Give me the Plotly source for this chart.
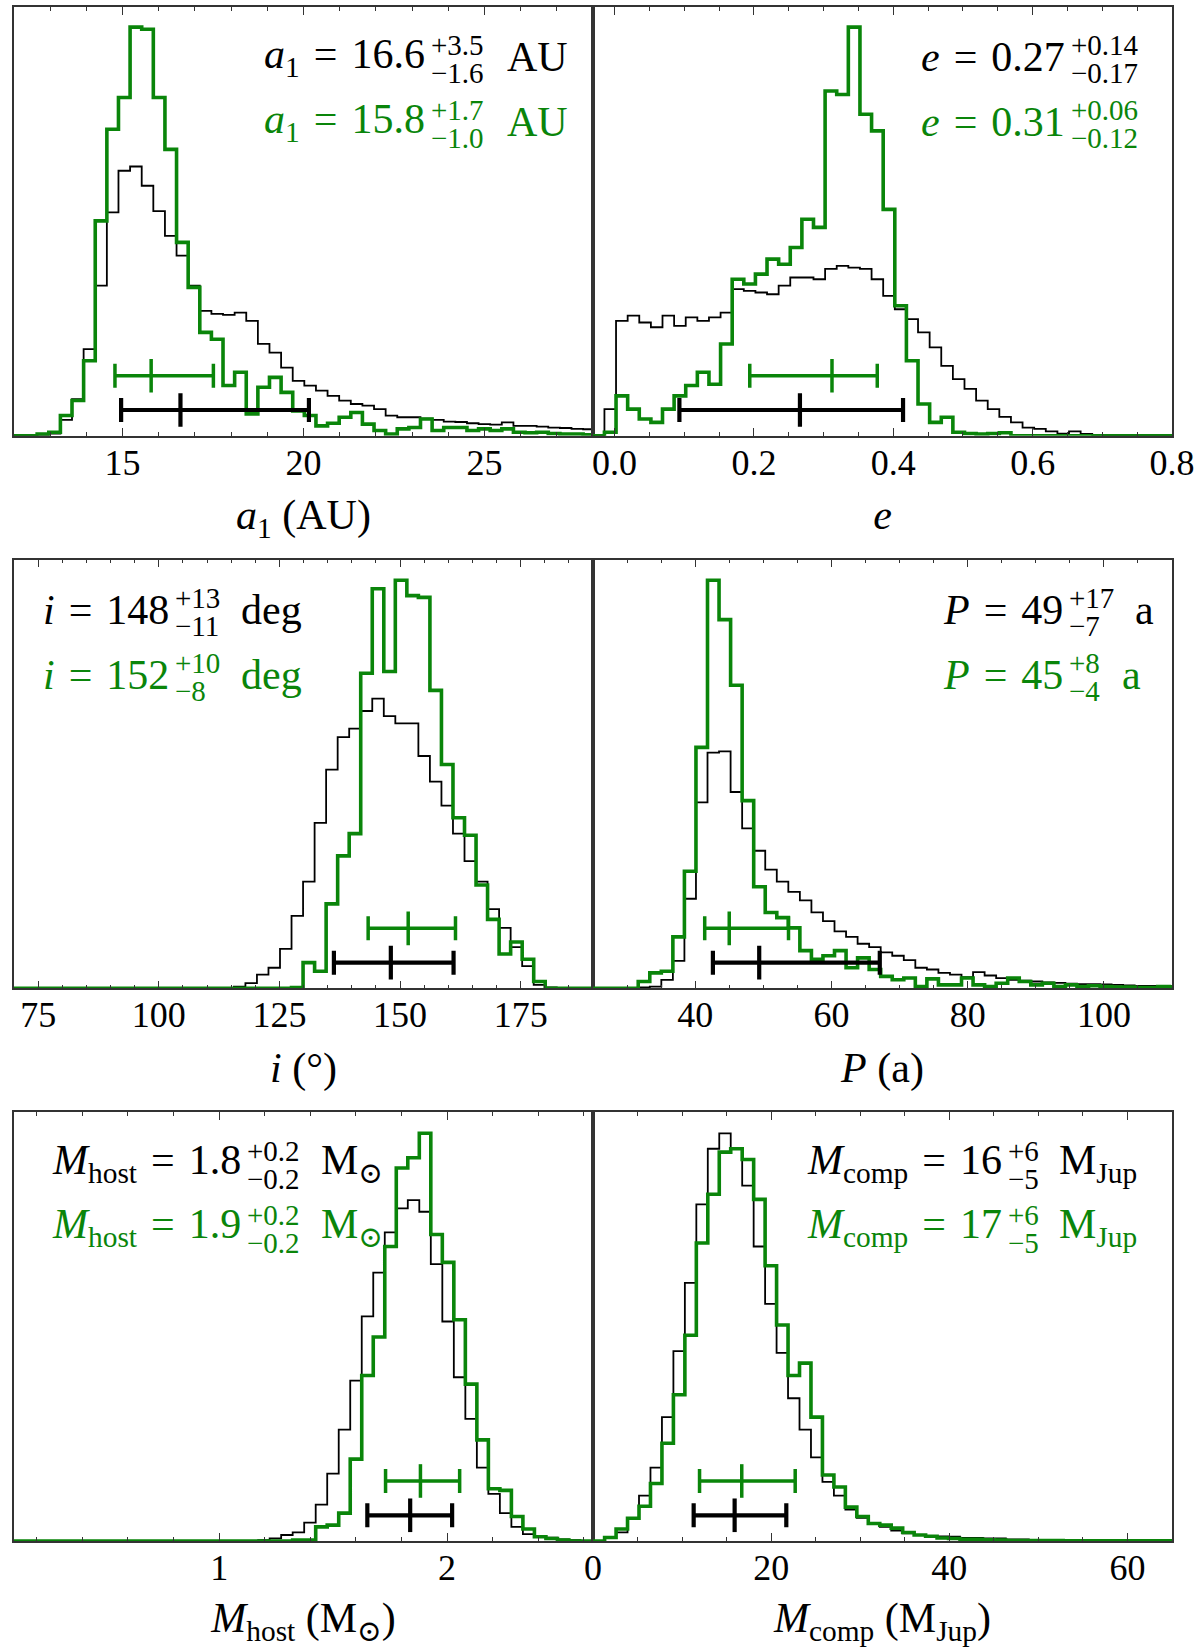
import plotly.graph_objects as go
from plotly.subplots import make_subplots

BLACK = "black"
GREEN = "#0a850a"
FONT = "Liberation Serif, DejaVu Serif, serif"

# heights are in percent of the panel height, bins are uniform (start, width)

# a1 (AU)
a1_bin_start, a1_bin_width = 12.64, 0.321
a1_black = [0.2, 0.5, 3.7, 8.5, 20.2, 35.0, 52.1, 61.8, 62.8, 58.3, 52.4, 46.6, 42.0, 35.0, 29.1, 28.4,
            28.2, 28.7, 26.8, 21.4, 19.4, 15.9, 12.8, 11.7, 10.5, 9.3, 8.2, 7.4, 7.0, 6.2, 4.7, 4.3,
            4.3, 4.0, 3.7, 3.3, 3.2, 2.9, 2.7, 2.6, 3.1, 2.3, 2.3, 2.1, 1.9, 1.8, 1.6, 1.5]
a1_green = [0.4, 0.8, 4.7, 8.2, 17.5, 50.1, 71.5, 78.9, 95.3, 94.8, 78.9, 66.8, 45.1, 34.6, 24.1, 22.5,
            11.7, 14.8, 5.1, 11.3, 13.6, 10.1, 5.8, 4.7, 2.3, 2.9, 4.3, 5.4, 2.7, 1.2, 0.4, 1.6,
            1.9, 3.9, 1.2, 1.9, 1.9, 1.2, 1.6, 1.2, 1.6, 0.8, 0.7, 0.8, 0.5, 0.4, 0.4, 0.2]
a1_black_bar = [14.96, 16.6, 20.15]  # lower, median, upper
a1_green_bar = [14.79, 15.79, 17.51]

# e
e_bin_start, e_bin_width = -0.0146, 0.01667
e_black = [6.2, 26.8, 28.0, 26.4, 25.3, 28.0, 25.6, 27.6, 26.8, 27.6, 28.7, 34.2, 33.8, 33.4, 33.0, 35.0,
           36.9, 36.9, 36.5, 38.9, 39.6, 39.2, 38.9, 36.5, 32.6, 29.5, 27.2, 24.1, 20.6, 16.3, 13.2, 10.9,
           8.2, 6.2, 4.4, 3.1, 1.9, 1.6, 1.0, 0.5, 1.0, 0.4, 0.2, 0.15, 0.1, 0.1, 0.05, 0.05, 0.05]
e_green = [0.8, 9.3, 6.2, 3.9, 3.1, 6.2, 9.3, 11.7, 14.8, 12.0, 21.4, 36.5, 35.4, 37.7, 41.2, 40.0,
           43.9, 50.5, 48.6, 80.4, 79.6, 95.3, 75.0, 71.1, 52.8, 30.3, 17.5, 7.4, 3.1, 4.3, 0.8, 0.5,
           0.4, 0.5, 0.7, 0, 0, 0, 0, 0, 0, 0, 0, 0, 0, 0, 0, 0, 0]
e_black_bar = [0.093, 0.266, 0.414]
e_green_bar = [0.194, 0.312, 0.377]

# i (deg)
i_bin_start, i_bin_width = 115.57, 2.39
i_black = [0.4, 1.2, 3.2, 4.8, 9.2, 16.9, 24.9, 38.6, 51.0, 58.6, 60.6, 64.7, 67.6, 63.5, 61.8, 61.8,
           54.2, 48.2, 42.6, 36.1, 29.7, 24.9, 18.5, 14.1, 9.6, 5.2, 0.8, 0.2]
i_green = [0, 0, 0, 0, 0, 0.2, 6.0, 4.0, 19.7, 30.9, 36.1, 73.5, 93.2, 73.9, 95.2, 91.6,
           91.2, 69.5, 52.2, 39.8, 35.7, 24.1, 16.1, 8.0, 10.8, 6.8, 1.6, 0]
i_black_bar = [136.3, 148.1, 161.1]
i_green_bar = [143.4, 151.7, 161.5]

# P (a)
P_bin_start, P_bin_width = 31.64, 1.695
P_black = [0.2, 0.4, 2.0, 6.4, 20.9, 43.4, 55.0, 55.3, 45.8, 37.3, 32.1, 27.7, 24.9, 22.5, 20.5, 17.7,
           15.7, 13.3, 12.0, 10.4, 9.6, 8.4, 7.6, 6.6, 4.8, 4.4, 3.6, 3.2, 2.6, 3.8, 3.0, 2.4,
           2.0, 1.8, 1.6, 1.4, 1.3, 1.1, 1.0, 1.0, 0.9, 0.8, 0.7, 0.6, 0.6, 0.6, 0.5]
P_green = [1.6, 3.6, 4.0, 12.0, 27.3, 56.2, 95.2, 86.0, 70.7, 43.8, 23.7, 17.7, 16.5, 14.1, 8.8, 6.8,
           7.6, 8.8, 4.8, 7.1, 4.4, 2.8, 2.0, 2.4, 0.4, 2.2, 0.8, 0.8, 2.4, 0.8, 0.4, 1.2,
           2.4, 1.6, 0.8, 1.2, 0.4, 0.8, 0.4, 0.6, 0.4, 0.3, 0.3, 0.2, 0.2, 0.4, 0.3]
P_black_bar = [42.6, 49.4, 67.1]
P_green_bar = [41.4, 45.0, 53.7]

# M_host (M_sun)
mh_bin_start, mh_bin_width = 1.171, 0.0505
mh_black = [0.2, 0.6, 1.4, 2.0, 4.3, 8.5, 15.7, 26.0, 37.4, 52.4, 62.6, 72.0, 77.6, 79.5, 76.8, 64.6,
            51.2, 38.2, 28.5, 17.1, 11.0, 6.5, 3.3, 1.6, 1.1, 0.8, 0.4, 0.2]
mh_green = [0, 0, 0, 0.2, 0.2, 3.3, 3.7, 6.5, 19.1, 38.6, 47.6, 68.7, 87.0, 89.4, 95.1, 71.5,
            65.0, 51.6, 36.6, 23.6, 12.2, 11.8, 5.7, 2.8, 1.0, 0.6, 0.2, 0]
mh_black_bar = [1.65, 1.838, 2.022]
mh_green_bar = [1.73, 1.883, 2.055]

# M_comp (M_Jup)
mc_bin_start, mc_bin_width = 1.304, 1.287
mc_black = [0.8, 2.0, 5.3, 10.6, 17.1, 28.9, 44.3, 60.2, 78.5, 91.5, 95.1, 91.5, 82.9, 68.7, 55.3, 43.9,
            33.3, 26.0, 19.5, 13.8, 10.6, 7.3, 5.4, 4.1, 3.3, 2.4, 1.8, 1.4, 1.2, 1.1, 1.0, 0.7,
            0.7, 0.6, 0.6, 0.4, 0.4, 0.2, 0.2, 0.1, 0.1, 0.1, 0.05, 0.05, 0.05, 0.05, 0.05, 0.05, 0.05, 0.05]
mc_green = [0.8, 2.8, 5.3, 8.1, 13.4, 22.8, 34.1, 48.0, 69.5, 80.9, 90.7, 91.5, 89.0, 79.7, 64.2, 50.4,
            38.6, 41.5, 28.9, 15.4, 12.6, 7.9, 5.7, 4.1, 3.7, 3.0, 2.0, 1.4, 1.1, 0.7, 0.6, 0.4,
            0.4, 0.3, 0.2, 0.1, 0.1, 0.1, 0.1, 0.1, 0.05, 0.05, 0.05, 0.05, 0.05, 0.05, 0.05, 0.05, 0.05, 0.05]
mc_black_bar = [11.3, 15.9, 21.7]
mc_green_bar = [11.96, 16.7, 22.7]

# heights of the credible-interval bars (black, green)
bar_levels = [6.0, 14.0]

panels = [
    dict(row=1, col=1, start=a1_bin_start, width=a1_bin_width, black=a1_black, green=a1_green,
         bars=[a1_black_bar, a1_green_bar], xr=[12, 28], dtick=5, minor=1, fmt="",
         title="<i>a</i><sub>1</sub> (AU)"),
    dict(row=1, col=2, start=e_bin_start, width=e_bin_width, black=e_black, green=e_green,
         bars=[e_black_bar, e_green_bar], xr=[-0.031, 0.8], dtick=0.2, minor=0.05, fmt=".1f",
         title="<i>e</i>"),
    dict(row=2, col=1, start=i_bin_start, width=i_bin_width, black=i_black, green=i_green,
         bars=[i_black_bar, i_green_bar], xr=[70, 190], dtick=25, minor=5, fmt="",
         title="<i>i</i> (°)"),
    dict(row=2, col=2, start=P_bin_start, width=P_bin_width, black=P_black, green=P_green,
         bars=[P_black_bar, P_green_bar], xr=[25, 110], dtick=20, minor=5, fmt="",
         title="<i>P</i> (a)"),
    dict(row=3, col=1, start=mh_bin_start, width=mh_bin_width, black=mh_black, green=mh_green,
         bars=[mh_black_bar, mh_green_bar], xr=[0.1, 2.64], dtick=1, minor=0.2, fmt="",
         title="<i>M</i><sub>host</sub> (M<sub>⊙</sub>)"),
    dict(row=3, col=2, start=mc_bin_start, width=mc_bin_width, black=mc_black, green=mc_green,
         bars=[mc_black_bar, mc_green_bar], xr=[0, 65], dtick=20, minor=5, fmt="",
         title="<i>M</i><sub>comp</sub> (M<sub>Jup</sub>)"),
]

# text labels: (panel row, x of scripts, main text, sup, sub, unit, x of unit) per line, black then green
labels = [
    (1, 425, "<i>a</i><sub>1</sub>\u2004=\u200416.6", "+3.5", "\u22121.6", "AU", 501),
    (1, 425, "<i>a</i><sub>1</sub>\u2004=\u200415.8", "+1.7", "\u22121.0", "AU", 501),
    (1, 1070, "<i>e</i>\u2004=\u20040.27", "+0.14", "\u22120.17", "", 0),
    (1, 1070, "<i>e</i>\u2004=\u20040.31", "+0.06", "\u22120.12", "", 0),
    (2, 166, "<i>i</i>\u2004=\u2004148", "+13", "\u221211", "deg", 233),
    (2, 166, "<i>i</i>\u2004=\u2004152", "+10", "\u22128", "deg", 233),
    (2, 1068, "<i>P</i>\u2004=\u200449", "+17", "\u22127", "a", 1135),
    (2, 1068, "<i>P</i>\u2004=\u200445", "+8", "\u22124", "a", 1122),
    (3, 239, "<i>M</i><sub>host</sub>\u2004=\u20041.8", "+0.2", "\u22120.2", "M<sub>⊙</sub>", 314),
    (3, 239, "<i>M</i><sub>host</sub>\u2004=\u20041.9", "+0.2", "\u22120.2", "M<sub>⊙</sub>", 314),
    (3, 1007, "<i>M</i><sub>comp</sub>\u2004=\u200416", "+6", "\u22125", "M<sub>Jup</sub>", 1058),
    (3, 1007, "<i>M</i><sub>comp</sub>\u2004=\u200417", "+6", "\u22125", "M<sub>Jup</sub>", 1058),
]

W, H = 1200, 1647
ML, MR, MT, MB = 5, 27, 6, 106
PW, PH = W - ML - MR, H - MT - MB
row_tops = [6, 559, 1112]


def px_to_paper(px, py):
    return (px - ML) / PW, (H - MB - py) / PH


def step_xy(start, width, heights, xmin, xmax):
    edges = [start + width * k for k in range(len(heights) + 1)]
    xs = [xmin] + edges[:-1] + [edges[-1], xmax]
    ys = [0] + list(heights) + [0, 0]
    return xs, ys


fig = make_subplots(rows=3, cols=2, horizontal_spacing=0, vertical_spacing=0.0808)

for p in panels:
    r, c = p["row"], p["col"]
    for heights, color, lw in [(p["black"], BLACK, 1.8), (p["green"], GREEN, 3.6)]:
        xs, ys = step_xy(p["start"], p["width"], heights, p["xr"][0], p["xr"][1])
        fig.add_trace(go.Scatter(x=xs, y=ys, mode="lines", line=dict(color=color, width=lw, shape="hv"),
                                 showlegend=False, hoverinfo="skip"), row=r, col=c)
    for bar, level, color, bw in zip(p["bars"], bar_levels, [BLACK, GREEN], [4.2, 3.5]):
        lo, med, hi = bar
        fig.add_trace(go.Scatter(x=[med], y=[level], mode="markers",
                                 marker=dict(symbol="line-ns", size=24, line=dict(color=color, width=bw)),
                                 error_x=dict(type="data", symmetric=False, array=[hi - med],
                                              arrayminus=[med - lo], thickness=bw, width=12, color=color),
                                 showlegend=False, hoverinfo="skip"), row=r, col=c)
    fig.update_xaxes(range=p["xr"], dtick=p["dtick"], tick0=0, tickformat=p["fmt"],
                     ticks="inside", ticklen=8, tickwidth=1.4, tickcolor="#333",
                     minor=dict(dtick=p["minor"], tick0=0, ticks="inside", ticklen=4, tickwidth=1.2,
                                tickcolor="#333"),
                     showline=True, linecolor="#333", linewidth=1.5, mirror="allticks",
                     showgrid=False, zeroline=False,
                     tickfont=dict(family=FONT, size=36, color="black"), ticklabelstandoff=-6,
                     title=dict(text=p["title"], font=dict(family=FONT, size=42, color="black"), standoff=18),
                     row=r, col=c)
    fig.update_yaxes(range=[0, 100], showticklabels=False, ticks="", showline=True, linecolor="#333",
                     linewidth=1.5, mirror=True, showgrid=False, zeroline=False, row=r, col=c)

annotations = []
for k, (row, xs, main, sup, sub, unit, xu) in enumerate(labels):
    color = BLACK if k % 2 == 0 else GREEN
    yc = row_tops[row - 1] + (50.5 if k % 2 == 0 else 115)
    parts = [(xs - 4, yc, main, 42, "right"), (xs, yc - 12, sup, 29, "left"), (xs, yc + 16, sub, 29, "left")]
    if unit:
        parts.append((xu, yc, unit, 42, "left"))
    for px, py, text, size, anchor in parts:
        ax, ay = px_to_paper(px, py)
        annotations.append(dict(x=ax, y=ay, xref="paper", yref="paper", text=text, showarrow=False,
                                xanchor=anchor, yanchor="middle", borderpad=0,
                                font=dict(family=FONT, size=size, color=color)))

fig.update_layout(width=W, height=H, margin=dict(l=ML, r=MR, t=MT, b=MB),
                  plot_bgcolor="white", paper_bgcolor="white", annotations=annotations,
                  font=dict(family=FONT, color="black"))

# the page body has a default margin; drop it so the figure sits at the window corner
fig.write_html("out.html", config={"displayModeBar": False},
               post_script="document.body.style.margin='0px';")
